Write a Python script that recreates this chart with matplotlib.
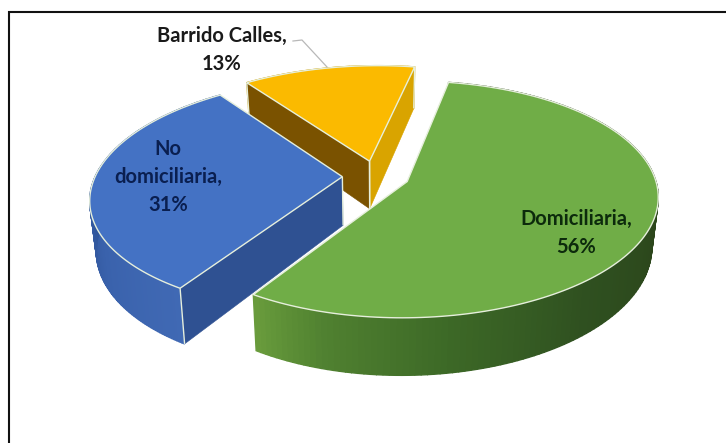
import numpy as np
import matplotlib.pyplot as plt
from matplotlib.patches import Polygon
from matplotlib.colors import to_rgb

# share of each collection type, clockwise from the first slice angle
names = ['Domiciliaria', 'No domiciliaria', 'Barrido Calles']
values = [56, 31, 13]
label_lines = [['Domiciliaria,', '56%'], ['No', 'domiciliaria,', '31%'], ['Barrido Calles,', '13%']]
label_pos = [(576, 233), (168, 177), (222, 50)]
label_cols = ['#0c2a0c', '#0a1f50', '#1a1a1a']

top_cols = ['#70ad47', '#4472c4', '#fbba00']
start_face = ['#5b8f3a', '#2f5192', '#7a5200']   # cut on the leading side of the slice
end_face = ['#5b8f3a', '#2f5192', '#d9a400']     # cut on the trailing side

# wall shading: angle (deg) -> colour
wall_angles = [[-125, -105, -80, -50, 0, 90],
               [-240, -180, -150, -122],
               [80, 130]]
wall_cols = [['#6fa23f', '#4f8030', '#3c6826', '#2f5020', '#2a4219', '#2a4219'],
             ['#2a4d8f', '#2f5499', '#3a62ac', '#4069b4'],
             ['#d9a400', '#d9a400']]

first_angle = 80.0
cx, cy = 376.0, 176.0   # pie centre on the canvas
a, b = 247.0, 114.0     # horizontal and vertical radius
skew = 9.0              # camera sits slightly off to one side
persp = 0.15            # far side foreshortening
explode = 0.136
depth = 48.5
shrink = 0.977          # bottom ring sits further from the camera
rim = '#e6efdc'


def project(X, Y, bottom=False):
    X, Y = np.asarray(X, float), np.asarray(Y, float)
    w = 1 + persp * Y
    x = (a * X + skew * Y) / w
    y = -b * Y / w
    if bottom:
        return cx + shrink * x, cy + y + depth / w
    return cx + x, cy + y


def stack(xy):
    return np.column_stack(xy)


def cross(u, v):
    return u[0] * v[1] - u[1] * v[0]


def faces_camera(apex, corner, inner):
    # the cut shows when going straight down from its edge leaves the slice
    d = corner - apex
    return cross(d, inner - apex) * cross(d, (0, 1)) < 0


fig = plt.figure(figsize=(7.26, 4.43), dpi=100)
ax = fig.add_axes([0, 0, 1, 1])
ax.set_xlim(0, 726)
ax.set_ylim(443, 0)
ax.axis('off')
# chart border only shows along the top and left
ax.plot([9.3, 9.3, 726], [443, 11.7, 11.7], color='#111111', lw=1.5, solid_joinstyle='miter')

# slice angles run clockwise
sweep = np.array(values) / sum(values) * 360
starts = first_angle - np.concatenate([[0], np.cumsum(sweep)[:-1]])
ends = starts - sweep
order = [2, 1, 0]  # far slices first so the big slice lands on top

z = 2
for i in order:
    mid = np.radians((starts[i] + ends[i]) / 2)
    ox, oy = explode * np.cos(mid), explode * np.sin(mid)
    th = np.radians(np.linspace(starts[i], ends[i], 160))
    X, Y = ox + np.cos(th), oy + np.sin(th)
    tops = stack(project(X, Y))
    bots = stack(project(X, Y, True))
    apex_t = stack(project([ox], [oy]))[0]
    apex_b = stack(project([ox], [oy], True))[0]

    # outer wall as thin quads so the shading can vary along the arc
    ang = np.degrees(th)
    stops = np.array([to_rgb(c) for c in wall_cols[i]])
    for j in range(len(th) - 1):
        am = (ang[j] + ang[j + 1]) / 2
        col = [np.interp(am, wall_angles[i], stops[:, k]) for k in range(3)]
        quad = [tops[j], tops[j + 1], bots[j + 1], bots[j]]
        ax.add_patch(Polygon(quad, fc=col, ec=col, lw=1.0, zorder=z))

    # cut faces, only those turned towards the viewer
    inner = tops[len(tops) // 2]
    for end, bot, fc in [(tops[0], bots[0], start_face[i]), (tops[-1], bots[-1], end_face[i])]:
        if faces_camera(apex_t, end, inner):
            ax.add_patch(Polygon([apex_t, end, bot, apex_b], fc=fc, ec=fc, lw=0.4, zorder=z + 1))
            for p, q in [(apex_t, apex_b), (end, bot)]:
                ax.plot([p[0], q[0]], [p[1], q[1]], color=rim, lw=1.0, solid_capstyle='butt', zorder=z + 2)

    ax.add_patch(Polygon(np.vstack([apex_t, tops]), closed=True, fc=top_cols[i], ec=rim, lw=1.0,
                         joinstyle='miter', zorder=z + 3))
    z += 4

# leader for the label sitting outside its slice
ax.plot([293, 302, 327], [41, 40, 67], color='#b8b8b8', lw=0.9, zorder=z)

for lines, (tx, ty), col in zip(label_lines, label_pos, label_cols):
    ax.text(tx, ty, '\n'.join(lines), ha='center', va='center', ma='center', color=col, zorder=z + 1,
            family='Lato', fontweight='bold', fontsize=14.5, linespacing=1.5)

fig.savefig('out.png', dpi=100)
